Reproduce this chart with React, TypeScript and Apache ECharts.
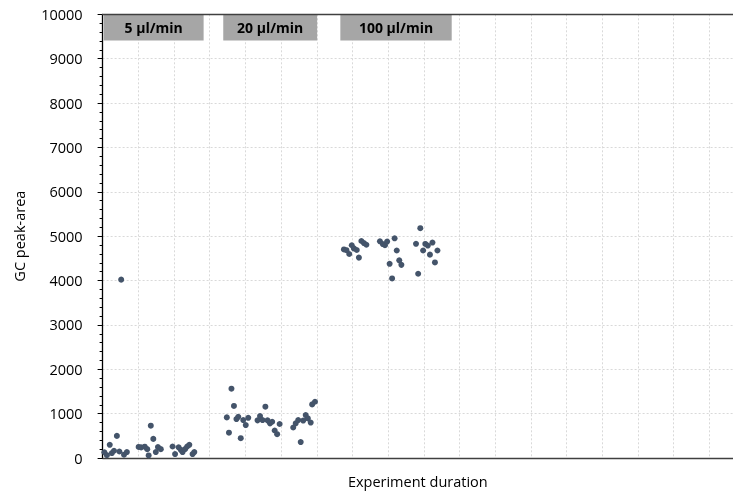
import React, { useEffect, useRef } from "react";
import * as echarts from "echarts";

// Flow-rate groups: [experiment duration (grid units), GC peak-area]
const rate5: [number, number][] = [
  [0.05, 130], [0.12, 63], [0.2, 297], [0.26, 112], [0.32, 163], [0.4, 498],
  [0.47, 147], [0.52, 4020], [0.6, 74], [0.68, 134],
  [1.01, 250], [1.08, 240], [1.18, 255], [1.25, 200], [1.29, 58], [1.35, 728],
  [1.42, 431], [1.49, 134], [1.55, 246], [1.63, 200],
  [1.96, 259], [2.03, 89], [2.13, 241], [2.19, 185], [2.24, 134], [2.31, 200],
  [2.37, 259], [2.43, 297], [2.52, 89], [2.57, 134],
];
const rate20: [number, number][] = [
  [3.48, 915], [3.54, 571], [3.61, 1562], [3.68, 1174], [3.75, 877], [3.8, 929],
  [3.87, 446], [3.94, 855], [4.01, 743], [4.08, 906],
  [4.34, 848], [4.41, 944], [4.48, 855], [4.56, 1156], [4.62, 848], [4.69, 781],
  [4.75, 817], [4.82, 620], [4.89, 536], [4.96, 766],
  [5.34, 688], [5.41, 781], [5.48, 855], [5.55, 359], [5.62, 844], [5.69, 967],
  [5.75, 893], [5.83, 799], [5.87, 1208], [5.95, 1268],
];
const rate100: [number, number][] = [
  [6.76, 4701], [6.83, 4683], [6.91, 4598], [6.98, 4795], [7.04, 4723], [7.12, 4688],
  [7.18, 4516], [7.25, 4891], [7.32, 4844], [7.39, 4806],
  [7.77, 4884], [7.85, 4821], [7.91, 4795], [7.97, 4877], [8.04, 4377], [8.11, 4047],
  [8.18, 4951], [8.24, 4676], [8.31, 4455], [8.37, 4353],
  [8.78, 4828], [8.84, 4152], [8.9, 5179], [8.98, 4676], [9.04, 4824], [9.11, 4788],
  [9.17, 4583], [9.24, 4855], [9.31, 4408], [9.38, 4676],
];
const groupLabels = ["5 µl/min", "20 µl/min", "100 µl/min"];
const groupSpans: [number, number][] = [[0.03, 2.83], [3.38, 6.01], [6.66, 9.78]];
const bannerRange: [number, number] = [9410, 9990];

const X_MAX = 17.66;
const FONT = "'Open Sans', sans-serif";

export default function App() {
  const ref = useRef<HTMLDivElement>(null);
  useEffect(() => {
    if (!ref.current) return;
    const chart = echarts.init(ref.current, null, { renderer: "svg" });
    const allData = [...rate5, ...rate20, ...rate100];
    chart.setOption({
      animation: false,
      grid: { left: 102.6, right: 0, top: 14.3, bottom: 30.7, containLabel: false },
      xAxis: [
        {
          type: "value",
          min: 0,
          max: X_MAX,
          interval: 1,
          name: "Experiment duration",
          nameLocation: "middle",
          nameGap: 16,
          nameTextStyle: { fontFamily: FONT, fontSize: 14.5, color: "#000" },
          axisLine: { show: true, onZero: false, lineStyle: { color: "#404040", width: 1.3 } },
          axisTick: { show: false },
          axisLabel: { show: false },
          splitLine: { show: true, lineStyle: { color: "#d9d9d9", type: [2, 2], width: 1 } },
        },
        {
          type: "value",
          position: "top",
          min: 0,
          max: X_MAX,
          interval: 1,
          axisLine: { show: true, onZero: false, lineStyle: { color: "#404040", width: 1.3 } },
          axisTick: { show: false },
          axisLabel: { show: false },
          splitLine: { show: false },
          z: 10,
        },
      ],
      yAxis: {
        type: "value",
        min: 0,
        max: 10000,
        interval: 1000,
        name: "GC peak-area",
        nameLocation: "middle",
        nameGap: 76,
        nameTextStyle: { fontFamily: FONT, fontSize: 14.5, color: "#000" },
        axisLine: { show: true, lineStyle: { color: "#000", width: 1.3 } },
        axisTick: { show: true, inside: false, length: 5, lineStyle: { color: "#000" } },
        minorTick: { show: true, splitNumber: 5, length: 3, lineStyle: { color: "#000" } },
        axisLabel: {
          fontFamily: FONT,
          fontSize: 14.5,
          color: "#000",
          margin: 20,
          formatter: (v: number) => String(v),
        },
        splitLine: { show: true, lineStyle: { color: "#d9d9d9", type: [2, 2], width: 1 } },
      },
      series: [
        {
          type: "scatter",
          data: allData,
          symbol: "circle",
          symbolSize: 6,
          itemStyle: { color: "#44546A", opacity: 1 },
          markArea: {
            silent: true,
            itemStyle: { color: "#a6a6a6", opacity: 1 },
            label: {
              show: true,
              position: "inside",
              fontFamily: FONT,
              fontWeight: "bold",
              fontSize: 14,
              color: "#000",
            },
            data: groupLabels.map((name, i) => [
              { name, xAxis: groupSpans[i][0], yAxis: bannerRange[0] },
              { xAxis: groupSpans[i][1], yAxis: bannerRange[1] },
            ]),
          },
        },
      ],
    });
    return () => chart.dispose();
  }, []);
  return (
    <div
      ref={ref}
      style={{ position: "fixed", left: 0, top: 0, width: 733, height: 494 }}
    />
  );
}
